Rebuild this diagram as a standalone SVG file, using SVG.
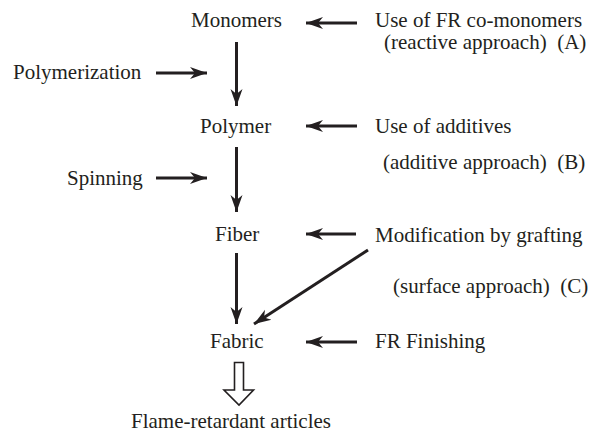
<svg xmlns="http://www.w3.org/2000/svg" width="601" height="433" viewBox="0 0 601 433">
<defs>
<style>
.t{font-family:'Liberation Serif','Times New Roman',Times,serif;font-size:21px;fill:#231f20}
.c{stroke:#231f20;stroke-width:3;fill:none}
</style>
<marker id="ah" markerUnits="userSpaceOnUse" markerWidth="20" markerHeight="14" viewBox="-17 -7 20 14" refX="0" refY="0" orient="auto">
<path d="M0,0 L-17,-6 L-12,0 L-17,6 Z" fill="#231f20"/>
</marker>
</defs>
<rect width="601" height="433" fill="#fff"/>
<g class="t" font-family="Liberation Serif, Times New Roman, serif" font-size="21">
<g id="monomers"><text x="191" y="27">Monomers</text></g>
<g id="polymer"><text x="200" y="133">Polymer</text></g>
<g id="fiber"><text x="215" y="241">Fiber</text></g>
<g id="fabric"><text x="210" y="348">Fabric</text></g>
<g id="articles"><text x="131" y="428">Flame-retardant articles</text></g>
<g id="fr-comonomers"><text x="375" y="27">Use of FR co-monomers</text><text x="384" y="49" xml:space="preserve">(reactive approach)  (A)</text></g>
<g id="additives"><text x="375" y="133">Use of additives</text><text x="383" y="169" xml:space="preserve">(additive approach)  (B)</text></g>
<g id="grafting"><text x="375" y="242">Modification by grafting</text><text x="393" y="293" xml:space="preserve">(surface approach)  (C)</text></g>
<g id="finishing"><text x="375" y="348">FR Finishing</text></g>
<g id="polymerization"><text x="13" y="79">Polymerization</text></g>
<g id="spinning"><text x="67" y="185">Spinning</text></g>
</g>
<g id="connectors">
<line class="c" x1="236.5" y1="42" x2="236.5" y2="106" marker-end="url(#ah)"/>
<line class="c" x1="236.5" y1="147" x2="236.5" y2="212" marker-end="url(#ah)"/>
<line class="c" x1="236.5" y1="253" x2="236.5" y2="324" marker-end="url(#ah)"/>
<line class="c" x1="357" y1="23" x2="306" y2="23" marker-end="url(#ah)"/>
<line class="c" x1="357" y1="126" x2="306" y2="126" marker-end="url(#ah)"/>
<line class="c" x1="356" y1="234" x2="306" y2="234" marker-end="url(#ah)"/>
<line class="c" x1="357" y1="342" x2="306" y2="342" marker-end="url(#ah)"/>
<line class="c" x1="156" y1="73" x2="207" y2="73" marker-end="url(#ah)"/>
<line class="c" x1="156" y1="178" x2="207" y2="178" marker-end="url(#ah)"/>
<line class="c" x1="368" y1="250" x2="254" y2="324" stroke-width="2.2" marker-end="url(#ah)"/>
<path d="M234.5,362.5 L243.5,362.5 L243.5,390 L253.5,390 L239,405 L224,390 L234.5,390 Z" fill="#fff" stroke="#231f20" stroke-width="1.6" stroke-linejoin="miter"/>
</g>
</svg>
